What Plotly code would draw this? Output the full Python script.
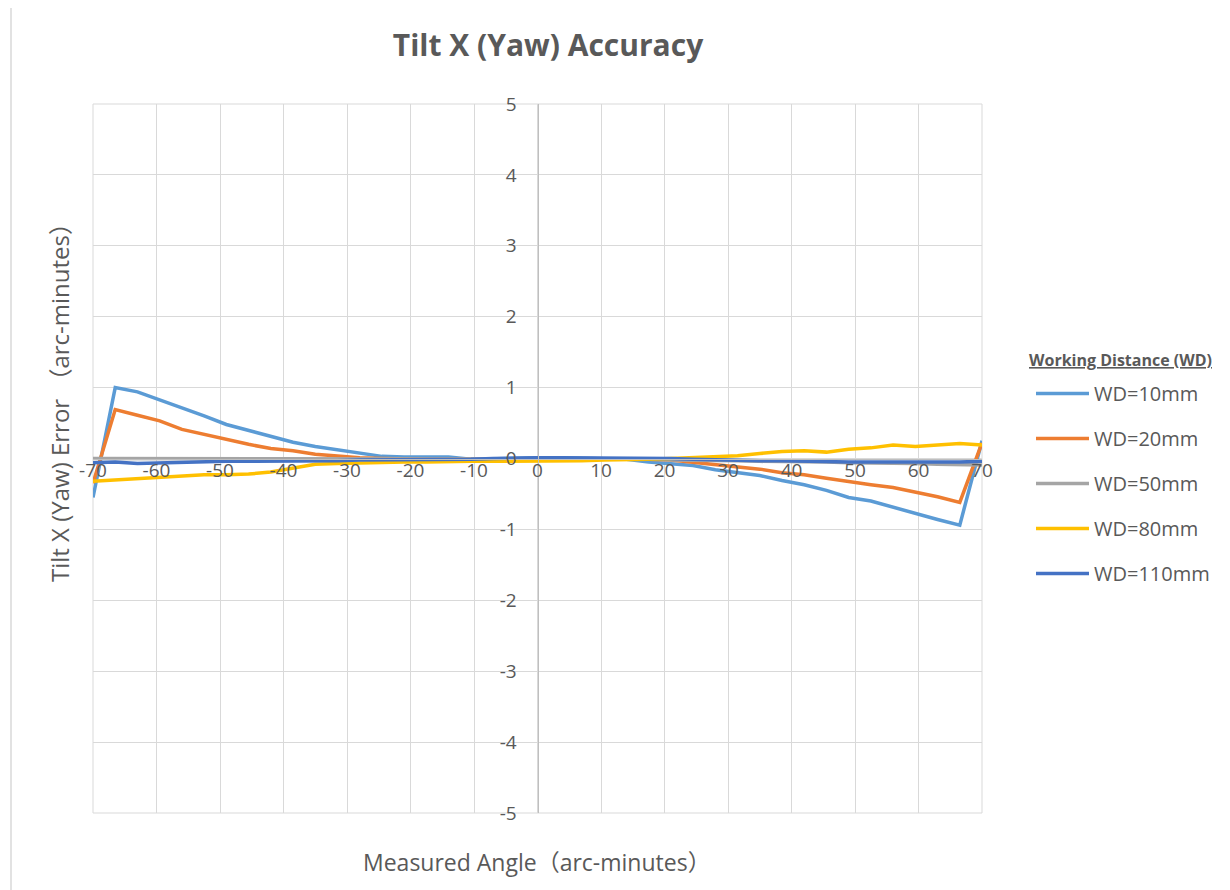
import plotly.graph_objects as go

# ---------------- data ----------------
angles = [-70, -66.5, -63, -59.5, -56, -52.5, -49, -45.5, -42, -38.5, -35, -31.5, -28, -24.5,
          -21, -17.5, -14, -10.5, -7, -3.5, 0, 3.5, 7, 10.5, 14, 17.5, 21, 24.5, 28, 31.5,
          35, 38.5, 42, 45.5, 49, 52.5, 56, 59.5, 63, 66.5, 70]

wd10 = [-0.55, 1.00, 0.94, 0.83, 0.71, 0.60, 0.48, 0.40, 0.31, 0.23, 0.17, 0.12, 0.08, 0.03,
        0.02, 0.02, 0.02, -0.01, 0.00, 0.01, 0.01, 0.01, 0.00, 0.00, -0.01, -0.05, -0.08, -0.10,
        -0.16, -0.20, -0.24, -0.31, -0.37, -0.45, -0.55, -0.60, -0.69, -0.77, -0.86, -0.94, 0.25]

wd20 = [-0.35, 0.69, 0.61, 0.53, 0.41, 0.34, 0.26, 0.20, 0.14, 0.11, 0.06, 0.03, 0.01, 0.00,
        -0.01, -0.01, -0.01, -0.01, -0.01, 0.00, 0.00, 0.00, 0.00, 0.00, -0.01, -0.01, -0.02, -0.05,
        -0.08, -0.11, -0.15, -0.20, -0.23, -0.28, -0.33, -0.37, -0.41, -0.47, -0.54, -0.62, 0.22]

wd50 = [0.00, 0.00, 0.00, 0.00, 0.00, 0.00, 0.00, 0.00, 0.00, 0.00, 0.00, 0.00, 0.00, 0.00,
        0.00, 0.00, -0.01, -0.01, -0.01, -0.01, -0.01, -0.01, -0.01, -0.01, -0.01, -0.01, -0.02, -0.02,
        -0.03, -0.03, -0.04, -0.04, -0.05, -0.05, -0.06, -0.06, -0.07, -0.07, -0.08, -0.08, -0.09]

wd80 = [-0.32, -0.30, -0.28, -0.26, -0.25, -0.23, -0.23, -0.22, -0.19, -0.14, -0.08, -0.07, -0.06, -0.06,
        -0.05, -0.05, -0.04, -0.04, -0.04, -0.04, -0.04, -0.04, -0.03, -0.02, -0.02, -0.01, 0.00, 0.01,
        0.02, 0.04, 0.07, 0.10, 0.11, 0.09, 0.13, 0.15, 0.19, 0.17, 0.19, 0.21, 0.19]

wd110 = [-0.06, -0.05, -0.07, -0.06, -0.05, -0.05, -0.04, -0.04, -0.04, -0.04, -0.03, -0.03, -0.02, -0.02,
         -0.02, -0.01, -0.01, -0.01, 0.00, 0.01, 0.01, 0.01, 0.01, 0.01, 0.01, 0.00, 0.00, -0.01,
         -0.02, -0.02, -0.03, -0.03, -0.04, -0.04, -0.05, -0.05, -0.05, -0.06, -0.05, -0.05, -0.04]

series_names = ["WD=10mm", "WD=20mm", "WD=50mm", "WD=80mm", "WD=110mm"]
series_values = [wd10, wd20, wd50, wd80, wd110]
series_colors = ["#5B9BD5", "#ED7D31", "#A5A5A5", "#FFC000", "#4472C4"]

x_ticks = [-70, -60, -50, -40, -30, -20, -10, 0, 10, 20, 30, 40, 50, 60, 70]
y_ticks = [-5, -4, -3, -2, -1, 0, 1, 2, 3, 4, 5]

title_text = "Tilt X (Yaw) Accuracy"
x_title = "Measured Angle（arc-minutes）"
y_title = "Tilt X (Yaw) Error （arc-minutes）"
legend_title = "Working Distance (WD)"

# ---------------- layout constants ----------------
OFF = 8                      # page body margin of the browser
W, H = 1230 - OFF, 890 - OFF
L, T = 93 - OFF, 104 - OFF
PW, PH = 889, 709
R, B = W - L - PW, H - T - PH
FONT = "'Open Sans', 'Noto Sans CJK JP', sans-serif"
TXT = "#595959"
GRID = "#D9D9D9"


def px2paper_x(px):
    # px given in screenshot coordinates
    return (px - OFF - L) / PW


def px2paper_y(py):
    return (T + PH - (py - OFF)) / PH


fig = go.Figure()
for i, (name, vals, col) in enumerate(zip(series_names, series_values, series_colors)):
    fig.add_trace(go.Scatter(
        x=angles, y=vals, mode="lines", name=name,
        line=dict(color=col, width=3.5),
        legendgroup=f"g{i}",
    ))

fig.update_layout(
    width=W, height=H,
    margin=dict(l=L, r=R, t=T, b=B, autoexpand=False),
    paper_bgcolor="white", plot_bgcolor="white",
    font=dict(family=FONT, color=TXT, size=19),
    title=dict(text=f"<b>{title_text}</b>", x=(548 - OFF) / W, xanchor="center",
               y=1 - (45 - OFF) / H, yanchor="middle",
               font=dict(size=30, color=TXT, family=FONT)),
    xaxis=dict(range=[-70, 70], tickvals=x_ticks, ticktext=[str(v) for v in x_ticks],
               showgrid=True, gridcolor=GRID, gridwidth=1,
               zeroline=False, showline=True, linecolor="#BFBFBF", linewidth=1,
               anchor="free", position=0.5, ticks="", ticklabelstandoff=-5,
               tickfont=dict(size=19, color=TXT)),
    yaxis=dict(range=[-5, 5], tickvals=y_ticks, ticktext=[str(v) for v in y_ticks],
               showgrid=True, gridcolor=GRID, gridwidth=1,
               zeroline=False, showline=True, linecolor="#BFBFBF", linewidth=1,
               anchor="free", position=0.5, ticks="", ticklabelstandoff=17,
               tickfont=dict(size=19, color=TXT)),
    showlegend=True,
    legend=dict(
        x=px2paper_x(1031), xanchor="left",
        y=px2paper_y(374), yanchor="top",
        font=dict(size=20, color=TXT),
        tracegroupgap=16, bgcolor="rgba(0,0,0,0)", itemwidth=53,
    ),
)

# plot-area outline (edge gridlines)
fig.add_shape(type="rect", xref="paper", yref="paper", x0=0, x1=1, y0=0, y1=1,
              line=dict(color=GRID, width=1), layer="below")

# legend title
fig.add_annotation(text=f"<u><b>{legend_title}</b></u>", xref="paper", yref="paper",
                   x=px2paper_x(1027), y=px2paper_y(360), xanchor="left", yanchor="middle",
                   showarrow=False, font=dict(size=16, color=TXT, family=FONT))

# axis titles
fig.add_annotation(text=x_title, xref="paper", yref="paper",
                   x=px2paper_x(537), y=px2paper_y(862), xanchor="center", yanchor="middle",
                   showarrow=False, font=dict(size=23, color=TXT, family=FONT))
fig.add_annotation(text=y_title, xref="paper", yref="paper",
                   x=px2paper_x(59), y=px2paper_y(397), xanchor="center", yanchor="middle",
                   textangle=-90, showarrow=False, font=dict(size=24, color=TXT, family=FONT))

# chart outer border (left and top visible)
fig.add_shape(type="line", xref="paper", yref="paper",
              x0=px2paper_x(11), x1=px2paper_x(11), y0=px2paper_y(5), y1=px2paper_y(900),
              line=dict(color=GRID, width=1.5))
fig.add_shape(type="line", xref="paper", yref="paper",
              x0=px2paper_x(11), x1=px2paper_x(1240), y0=px2paper_y(5), y1=px2paper_y(5),
              line=dict(color=GRID, width=1.5))

fig.write_html("out.html")
